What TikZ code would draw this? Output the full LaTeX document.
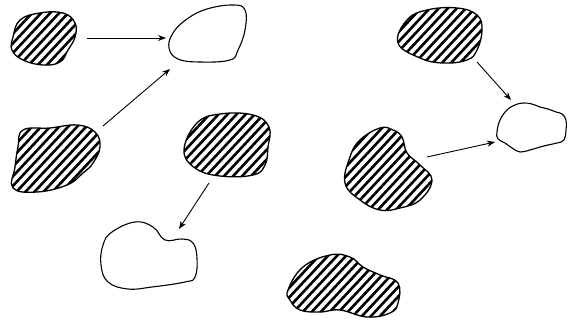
\documentclass[tikz,border=0pt]{standalone}
\usetikzlibrary{arrows.meta}
\tikzset{
  blobline/.style={line width=1.3pt, line join=round},
  hatchline/.style={line width=2.6pt},
  conn/.style={line width=0.9pt, -{Stealth[length=8pt,width=6pt]}},
}
% #1 = centre x, #2 = centre y, #3 = coordinate list
\newcommand{\hatchedblob}[3]{%
  \begin{scope}
    \clip plot[smooth cycle, tension=0.7] coordinates {#3};
    \foreach \k in {-17,...,17}{
      \draw[hatchline] ({#1+\k*6.6*sin(47)-130*cos(47)},{#2+\k*6.6*cos(47)+130*sin(47)})
        -- ({#1+\k*6.6*sin(47)+130*cos(47)},{#2+\k*6.6*cos(47)-130*sin(47)});
    }
  \end{scope}
  \draw[blobline] plot[smooth cycle, tension=0.7] coordinates {#3};
}
\newcommand{\openblob}[1]{%
  \draw[blobline, line width=1.1pt] plot[smooth cycle, tension=0.7] coordinates {#1};
}
\begin{document}
\begin{tikzpicture}[x=1pt,y=-1pt]
\useasboundingbox (0,0) rectangle (568,331);

% top-left hatched
\hatchedblob{44}{39}{(20,20) (40,13) (63,13) (75,23) (75,37) (68,50) (60,62) (43,65) (23,60) (12,50) (13,37)}
% top open
\openblob{(169,48) (173,33) (187,19) (207,9) (233,5) (245,10) (245,30) (238,50) (230,60) (200,62) (178,59)}
% middle-left hatched
\hatchedblob{57}{158}{(23,130) (50,128) (77,125) (95,132) (100,147) (93,163) (83,173) (67,185) (37,192) (13,188) (15,167) (18,147)}
% centre hatched
\hatchedblob{226}{145}{(184,150) (197,123) (220,114) (253,115) (269,127) (268,147) (265,165) (253,175) (220,176) (195,168)}
% bottom open
\openblob{(103,245) (112,232) (135,222) (153,227) (165,240) (182,239) (193,243) (197,258) (195,277) (185,282) (152,287) (128,289) (108,282) (101,265)}
% bottom hatched
\hatchedblob{344}{287}{(288,290) (303,267) (330,255) (350,257) (363,267) (380,275) (398,283) (398,303) (390,313) (367,317) (340,310) (320,312) (300,310) (290,300)}
% top-right hatched
\hatchedblob{440}{36}{(398,43) (407,20) (427,10) (457,8) (477,15) (482,30) (477,50) (467,60) (443,63) (420,58)}
% heart hatched
\hatchedblob{388}{170}{(380,128) (393,130) (402,137) (407,153) (420,165) (432,180) (420,200) (400,208) (380,210) (360,200) (345,183) (350,157) (360,140)}
% right open (wiggly)
\openblob{(497,132) (500,120) (507,110) (515,105) (523,103) (532,104) (540,107) (548,109) (556,112) (562,114) (566,120) (566,130) (564,140) (557,143) (548,145) (540,147) (530,150) (520,152) (512,148) (505,143) (498,139)}

% connector end points
\coordinate (a1s) at (87,38);   \coordinate (a1e) at (166,38);
\coordinate (a2s) at (103,126); \coordinate (a2e) at (170,69);
\coordinate (a3s) at (209,183); \coordinate (a3e) at (179,229);
\coordinate (a4s) at (477,62);  \coordinate (a4e) at (511,100);
\coordinate (a5s) at (427,157); \coordinate (a5e) at (495,142);

\draw[conn] (a1s) -- (a1e);
\draw[conn] (a2s) -- (a2e);
\draw[conn] (a3s) -- (a3e);
\draw[conn] (a4s) -- (a4e);
\draw[conn] (a5s) -- (a5e);
\end{tikzpicture}
\end{document}
